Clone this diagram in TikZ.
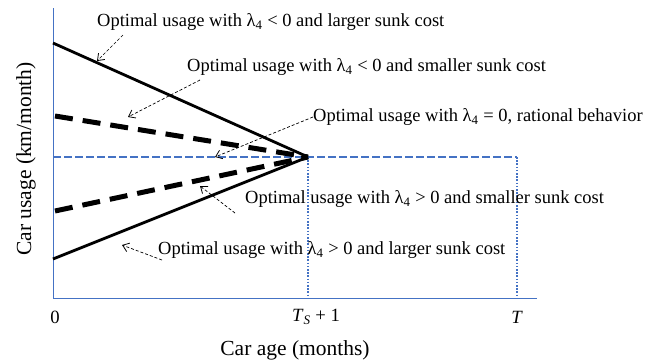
\documentclass[tikz,border=0pt]{standalone}
\usepackage{fontspec}
\setmainfont{Liberation Serif}
\usetikzlibrary{arrows.meta}
\definecolor{axblue}{RGB}{68,114,196}
\begin{document}
\begin{tikzpicture}[x=1pt,y=-1pt,
  lbl/.style={font=\fontsize{18.5}{21}\selectfont, inner sep=0pt, anchor=west},
  tick/.style={font=\fontsize{18.7}{21}\selectfont, inner sep=0pt},
  axlbl/.style={font=\fontsize{21.5}{24}\selectfont, inner sep=0pt},
  axis/.style={draw=axblue, line width=1pt},
  solidline/.style={line width=2.8pt, line cap=butt},
  dashline/.style={line width=5pt, dash pattern=on 18pt off 10pt},
  ptr/.style={dash pattern=on 3pt off 2pt, line width=0.7pt, -{Straight Barb[length=6pt,width=9pt,line width=0.8pt]}},
  bdash/.style={draw=axblue, line width=2.4pt, dash pattern=on 7.5pt off 3.5pt},
  bdot/.style={draw=axblue, line width=1.8pt, dash pattern=on 1.6pt off 1.6pt}]
\useasboundingbox (0,0) rectangle (658,362);
% key points
\coordinate (O) at (53,298);
\coordinate (Ytop) at (53,8);
\coordinate (Xend) at (537,298);
\coordinate (P) at (308,157);
\coordinate (Pb) at (308,298);
\coordinate (Q) at (517,157);
\coordinate (Qb) at (517,298);
\coordinate (B0) at (53,157);
\coordinate (S1) at (53,43);
\coordinate (D1) at (55,116);
\coordinate (D2) at (55,211);
\coordinate (S2) at (53,259);
% axes
\draw[axis] (Ytop) -- (O) -- (Xend);
% blue reference
\draw[bdash] (B0) -- (Q);
\draw[bdot] (Q) -- (Qb);
\draw[bdot] (P) -- (Pb);
% curves
\draw[solidline] (S1) -- (P);
\draw[solidline] (S2) -- (P);
\draw[dashline] (D1) -- (P);
\draw[dashline] (D2) -- (P);
% labels
\node[lbl] (L1) at (97,22) {Optimal usage with λ\textsubscript{4} < 0 and larger sunk cost};
\node[lbl] (L2) at (187,67) {Optimal usage with λ\textsubscript{4} < 0 and smaller sunk cost};
\node[lbl] (L3) at (313,117) {Optimal usage with λ\textsubscript{4} = 0, rational behavior};
\node[lbl] (L4) at (245,199) {Optimal usage with λ\textsubscript{4} > 0 and smaller sunk cost};
\node[lbl] (L5) at (158,250) {Optimal usage with λ\textsubscript{4} > 0 and larger sunk cost};
% pointer arrows
\coordinate (A1s) at (123,35); \coordinate (A1e) at (97,61);
\coordinate (A2s) at (200,80); \coordinate (A2e) at (128,117);
\coordinate (A3e) at (215,157);
\coordinate (A4s) at (235,213); \coordinate (A4e) at (200,186);
\coordinate (A5s) at (162,260); \coordinate (A5e) at (122,245);
\draw[ptr] (A1s) -- (A1e);
\draw[ptr] (A2s) -- (A2e);
\draw[ptr] (L3.west) -- (A3e);
\draw[ptr] (A4s) -- (A4e);
\draw[ptr] (A5s) -- (A5e);
% tick labels
\node[tick] (t0) at (55,317) {0};
\node[tick] (t1) at (316,317) {\textit{T}\textsubscript{\textit{S}} + 1};
\node[tick] (t2) at (517,317) {\textit{T}};
\node[axlbl] (xl) at (295,350) {Car age (months)};
\node[axlbl, rotate=90] (yl) at (26,159) {Car usage (km/month)};
\end{tikzpicture}
\end{document}
